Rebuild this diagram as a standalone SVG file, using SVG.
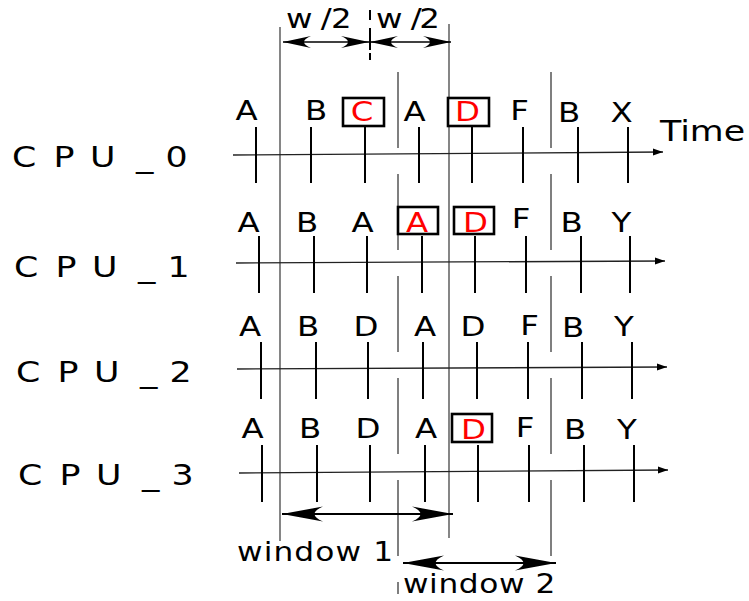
<svg xmlns="http://www.w3.org/2000/svg" width="749" height="601" viewBox="0 0 749 601">
<style>
.t{font-family:"DejaVu Sans","Liberation Sans",sans-serif;fill:#000}
.l{font-size:27px;text-anchor:middle}
.r{fill:#ff0000}
.cpu{font-size:29px}
.tick{stroke:#000;stroke-width:2;fill:none}
.axis{stroke:#222;stroke-width:1.3;fill:none}
.vl{stroke:#444;stroke-width:1.3;fill:none}
.dash{stroke:#555;stroke-width:1.5;fill:none;stroke-dasharray:76 26}
.box{fill:#fff;stroke:#000;stroke-width:2.6}
.arr{stroke:#000;fill:none}
</style>
<defs>
<marker id="ax" viewBox="-11 -5 12 10" refX="0" refY="0" markerWidth="12" markerHeight="10" markerUnits="userSpaceOnUse" orient="auto"><path d="M0,0 L-10,-3.5 L-10,3.5 Z" fill="#000"/></marker>
<marker id="sm" viewBox="-30 -8 32 16" refX="0" refY="0" markerWidth="32" markerHeight="16" markerUnits="userSpaceOnUse" orient="auto-start-reverse"><path d="M0,0 L-28,-6 Q-14,0 -28,6 Z" fill="#000"/></marker>
<marker id="bg" viewBox="-44 -9 46 18" refX="0" refY="0" markerWidth="46" markerHeight="18" markerUnits="userSpaceOnUse" orient="auto-start-reverse"><path d="M0,0 L-41,-7.5 Q-24,0 -41,7.5 Z" fill="#000"/></marker>
</defs>
<rect width="749" height="601" fill="#fff"/>
<g id="connectors">
<path class="dash" d="M398,72 V594"/>
<path class="dash" d="M551,72 V560"/>
<path class="vl" d="M280,27 V541"/>
<path class="vl" d="M449,24 V538"/>
<path stroke="#000" stroke-width="2" fill="none" d="M370,10 V20 M370,28 V50 M370,53 V60"/>
<path class="arr" stroke-width="1.3" d="M283,42 H369" marker-start="url(#sm)" marker-end="url(#sm)"/>
<path class="arr" stroke-width="1.3" d="M370,42 H451" marker-start="url(#sm)" marker-end="url(#sm)"/>
<path class="arr" stroke-width="2" d="M282,514 H453" marker-start="url(#bg)" marker-end="url(#bg)"/>
<path class="arr" stroke-width="2" d="M403,563 H556" marker-start="url(#bg)" marker-end="url(#bg)"/>
<path class="axis" d="M233,155 L663,152" marker-end="url(#ax)"/>
<path class="axis" d="M236,263 L665,261" marker-end="url(#ax)"/>
<path class="axis" d="M237,369 L667,367" marker-end="url(#ax)"/>
<path class="axis" d="M239,473 L668,470" marker-end="url(#ax)"/>
</g>
<g id="labels-top">
<text class="t" font-size="27" transform="translate(286,28) scale(1.2,1)" x="0 29 37.5">w/2</text>
<text class="t" font-size="27" transform="translate(376,28) scale(1.2,1)" x="0 29 36">w/2</text>
<text class="t" font-size="29" transform="translate(660,141) scale(1.2,1)">Time</text>
</g>
<g id="cpu0">
<text class="t cpu" transform="translate(12,167) scale(1.2,1)" x="0 34.7 65 103.3 128">CPU_0</text>
<path class="tick" d="M256,127 V183 M311,127 V183 M365,127 V183 M419,127 V183 M472,127 V183 M523,127 V183 M578,127 V183 M628,127 V183"/>
<rect class="box" x="343" y="98" width="41" height="28"/>
<rect class="box" x="448" y="98" width="41" height="28"/>
<text class="t l" transform="translate(246.5,120) scale(1.2,1)">A</text>
<text class="t l" transform="translate(316,120) scale(1.2,1)">B</text>
<text class="t l r" transform="translate(362,121) scale(1.2,1)">C</text>
<text class="t l" transform="translate(414.5,121) scale(1.2,1)">A</text>
<text class="t l r" transform="translate(467.5,121) scale(1.2,1)">D</text>
<text class="t l" transform="translate(519.5,120) scale(1.2,1)">F</text>
<text class="t l" transform="translate(569,122) scale(1.2,1)">B</text>
<text class="t l" transform="translate(621.5,122) scale(1.2,1)">X</text>
</g>
<g id="cpu1">
<text class="t cpu" transform="translate(14,277) scale(1.2,1)" x="0 34.7 65 103.3 128">CPU_1</text>
<path class="tick" d="M259,236 V293 M314,236 V293 M367,236 V293 M422,236 V293 M475,236 V293 M526,236 V293 M581,236 V293 M630,236 V293"/>
<rect class="box" x="398" y="207" width="40" height="27"/>
<rect class="box" x="454" y="207" width="40" height="27"/>
<text class="t l" transform="translate(248.5,232) scale(1.2,1)">A</text>
<text class="t l" transform="translate(307,232) scale(1.2,1)">B</text>
<text class="t l" transform="translate(362.5,232) scale(1.2,1)">A</text>
<text class="t l r" transform="translate(417,232) scale(1.2,1)">A</text>
<text class="t l r" transform="translate(475.5,232) scale(1.2,1)">D</text>
<text class="t l" transform="translate(521,228) scale(1.2,1)">F</text>
<text class="t l" transform="translate(571.5,232) scale(1.2,1)">B</text>
<text class="t l" transform="translate(621.5,232) scale(1.2,1)">Y</text>
</g>
<g id="cpu2">
<text class="t cpu" transform="translate(16,382) scale(1.2,1)" x="0 34.7 65 103.3 128">CPU_2</text>
<path class="tick" d="M261,342 V399 M316,342 V399 M368,342 V399 M423,342 V399 M477,342 V399 M528,342 V399 M582,342 V399 M632,342 V399"/>
<text class="t l" transform="translate(250,336) scale(1.2,1)">A</text>
<text class="t l" transform="translate(308,336) scale(1.2,1)">B</text>
<text class="t l" transform="translate(366,336) scale(1.2,1)">D</text>
<text class="t l" transform="translate(425,336) scale(1.2,1)">A</text>
<text class="t l" transform="translate(473,336) scale(1.2,1)">D</text>
<text class="t l" transform="translate(529.5,335) scale(1.2,1)">F</text>
<text class="t l" transform="translate(573,337) scale(1.2,1)">B</text>
<text class="t l" transform="translate(624,336) scale(1.2,1)">Y</text>
</g>
<g id="cpu3">
<text class="t cpu" transform="translate(18,485) scale(1.2,1)" x="0 34.7 65 103.3 128">CPU_3</text>
<path class="tick" d="M262,445 V502 M317,445 V502 M370,445 V502 M425,445 V502 M478,445 V502 M529,445 V502 M584,445 V502 M634,445 V502"/>
<rect class="box" x="452" y="414" width="40" height="28"/>
<text class="t l" transform="translate(252.5,438) scale(1.2,1)">A</text>
<text class="t l" transform="translate(310,438) scale(1.2,1)">B</text>
<text class="t l" transform="translate(368,438) scale(1.2,1)">D</text>
<text class="t l" transform="translate(426,438) scale(1.2,1)">A</text>
<text class="t l r" transform="translate(473.5,439) scale(1.2,1)">D</text>
<text class="t l" transform="translate(525,437) scale(1.2,1)">F</text>
<text class="t l" transform="translate(575,439) scale(1.2,1)">B</text>
<text class="t l" transform="translate(627,439) scale(1.2,1)">Y</text>
</g>
<g id="windows">
<text class="t" font-size="26" transform="translate(237,561) scale(1.2,1)" textLength="130" lengthAdjust="spacing">window 1</text>
<text class="t" font-size="26" transform="translate(403,593) scale(1.2,1)" textLength="127" lengthAdjust="spacing">window 2</text>
</g>
</svg>
